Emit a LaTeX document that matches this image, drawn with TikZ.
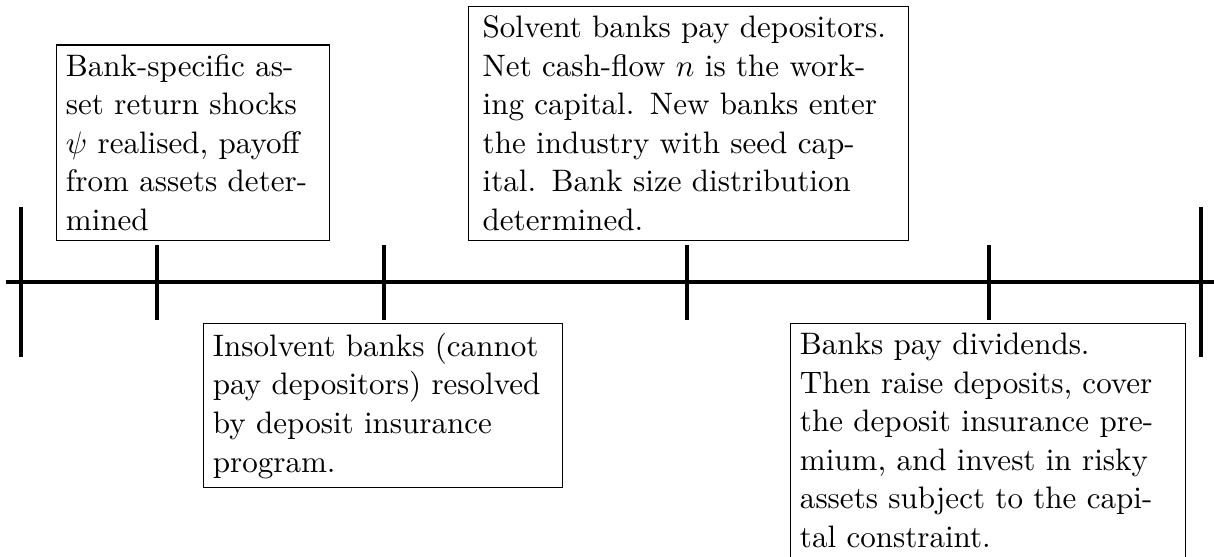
\documentclass[tikz,border=0pt]{standalone}
\usetikzlibrary{math}

\begin{document}
\begin{tikzpicture}[
  event/.style={draw, align=left, font=\fontsize{10.95}{13.6}\selectfont},
]
\tikzmath{
\L=15.054;
\gap=0.51;
\tall=0.93;
\short=0.465;
}
\useasboundingbox (0,-3.398) rectangle (\L,3.497);

% time line and period marks
\draw[very thick] (0.074,0) -- (\L+0.1,0);
\foreach \x in {0.26,14.892}
  \draw[very thick] (\x,-\tall) -- (\x,\tall);
\foreach \x in {1.947,4.762,8.519,12.264}
  \draw[very thick] (\x,-\short) -- (\x,\short);

% events above the line
\node[event, text width=3.15cm, anchor=south west] (shocks) at (0.694,\gap)
  {Bank-specific asset return shocks $\psi$ realised, payoff from assets determined};
\node[event, text width=5.1cm, inner xsep=5pt, anchor=south west] (entry) at (5.803,\gap)
  {Solvent banks pay depositors. Net cash-flow $n$ is the working capital. New banks enter the industry with seed capital. Bank size distribution determined.};

% events below the line
\node[event, text width=4.22cm, anchor=north west] (resolve) at (2.517,-\gap)
  {Insolvent banks (cannot pay depositors) resolved by deposit insurance program.};
\node[event, text width=4.66cm, anchor=north west] (invest) at (9.796,-\gap)
  {Banks pay dividends. Then raise deposits, cover the deposit insurance premium, and invest in risky assets subject to the capital constraint.};
\end{tikzpicture}
\end{document}
